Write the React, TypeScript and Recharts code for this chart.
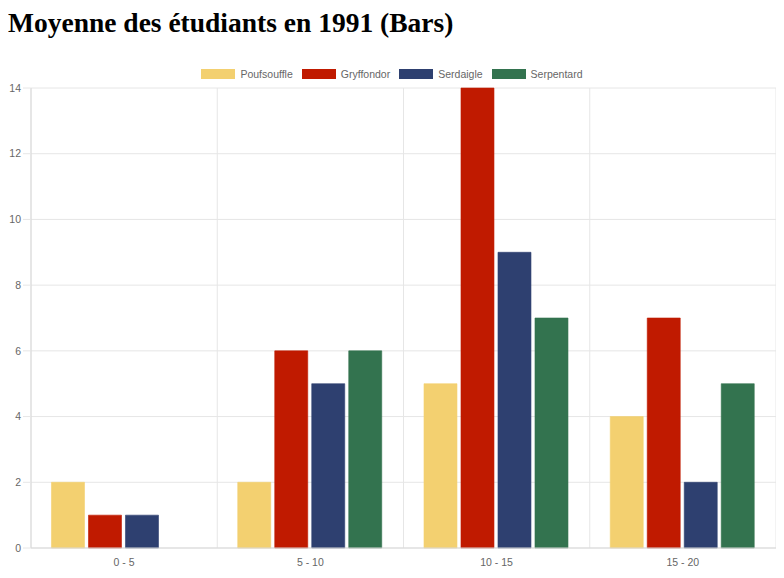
import { BarChart, Bar, XAxis, YAxis, CartesianGrid, Legend } from "recharts";

const categories = ["0 - 5", "5 - 10", "10 - 15", "15 - 20"];
const poufsouffle = [2, 2, 5, 4];
const gryffondor = [1, 6, 14, 7];
const serdaigle = [1, 5, 9, 2];
const serpentard = [0, 6, 7, 5];
const yTicks = [0, 2, 4, 6, 8, 10, 12, 14];

const houses = [
  { key: "Poufsouffle", color: "#f3d070" },
  { key: "Gryffondor", color: "#c01a00" },
  { key: "Serdaigle", color: "#2e4070" },
  { key: "Serpentard", color: "#33734f" },
];

const data = categories.map((name, i) => ({
  name,
  idx: i,
  Poufsouffle: poufsouffle[i],
  Gryffondor: gryffondor[i],
  Serdaigle: serdaigle[i],
  Serpentard: serpentard[i],
}));

const FONT = "'Liberation Sans', Arial, Helvetica, sans-serif";

function HouseLegend() {
  return (
    <div style={{ display: "flex", justifyContent: "center", gap: 9, fontFamily: FONT, fontSize: 10.5, color: "#666" }}>
      {houses.map((h) => (
        <div key={h.key} style={{ display: "flex", alignItems: "center" }}>
          <span style={{ display: "inline-block", width: 34, height: 10, background: h.color, marginRight: 5 }} />
          <span>{h.key}</span>
        </div>
      ))}
    </div>
  );
}

export default function App() {
  return (
    <div>
      <div style={{ fontFamily: "'Liberation Serif', 'Times New Roman', serif", fontWeight: "bold", fontSize: 27.5, height: 40, lineHeight: "30px", margin: 0 }}>
        Moyenne des étudiants en 1991 (Bars)
      </div>
      <BarChart
        width={768}
        height={522}
        data={data}
        margin={{ top: 0, right: 0, left: 0, bottom: 0 }}
        barCategoryGap="11%"
        barGap={4}
      >
        <CartesianGrid
          stroke="#e6e6e6"
          verticalCoordinatesGenerator={({ offset }: any) =>
            [0, 1, 2, 3, 4].map((i) => offset.left + (i * offset.width) / 4)
          }
        />
        <Legend
          verticalAlign="top"
          height={40}
          content={() => <div style={{ paddingTop: 20 }}><HouseLegend /></div>}
        />
        <XAxis
          xAxisId="grid"
          type="number"
          dataKey="idx"
          domain={[0, 4]}
          ticks={[0, 1, 2, 3, 4]}
          height={0}
          tick={false}
          tickSize={8}
          axisLine={false}
          tickLine={{ stroke: "#e6e6e6" }}
        />
        <XAxis
          dataKey="name"
          height={22}
          tickLine={false}
          tickSize={6}
          tickMargin={5}
          axisLine={{ stroke: "#d9d9d9" }}
          tick={{ fill: "#666", fontSize: 10.5, fontFamily: FONT }}
        />
        <YAxis
          width={23}
          domain={[0, 14]}
          ticks={yTicks}
          interval={0}
          tickSize={8}
          tickMargin={2}
          axisLine={{ stroke: "#d9d9d9" }}
          tickLine={{ stroke: "#e6e6e6" }}
          tick={{ fill: "#666", fontSize: 10.5, fontFamily: FONT }}
        />
        {houses.map((h) => (
          <Bar
            key={h.key}
            dataKey={h.key}
            fill={h.color}
            stroke={h.color}
            strokeOpacity={0.6}
            isAnimationActive={false}
          />
        ))}
      </BarChart>
    </div>
  );
}
